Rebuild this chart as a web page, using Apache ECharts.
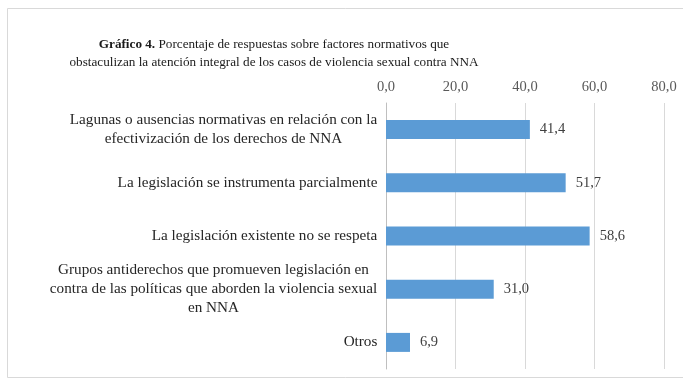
<!DOCTYPE html>
<html><head><meta charset="utf-8">
<script src="https://cdn.jsdelivr.net/npm/echarts@6/dist/echarts.min.js"></script>
<style>html,body{margin:0;padding:0;background:#fff}#c{width:683px;height:380px}</style>
</head><body><div id="c"></div>
<script>
var categories = [
  "Lagunas o ausencias normativas en relación con la\nefectivización de los derechos de NNA",
  "La legislación se instrumenta parcialmente",
  "La legislación existente no se respeta",
  "Grupos antiderechos que promueven legislación en\ncontra de las políticas que aborden la violencia sexual\nen NNA",
  "Otros"
];
var values = [41.4, 51.7, 58.6, 31.0, 6.9];
var tickMin = 0, tickMax = 80, tickStep = 20;

var FONT = '"Liberation Serif","Times New Roman",serif';
var FS = 15.2;
var ctx = document.createElement('canvas').getContext('2d');
ctx.font = FS + 'px ' + FONT;
var rich = {};
categories.forEach(function (c, i) {
  var w = 0;
  c.split('\n').forEach(function (l) { w = Math.max(w, ctx.measureText(l).width); });
  rich['c' + i] = { width: Math.ceil(w) + 1, align: 'center', fontFamily: FONT, fontSize: FS, color: '#262626', lineHeight: 19 };
});

var chart = echarts.init(document.getElementById('c'), null, { renderer: 'canvas' });
chart.setOption({
  animation: false,
  backgroundColor: '#fff',
  title: {
    text: '{b|Gráfico 4.} Porcentaje de respuestas sobre factores normativos que\nobstaculizan la atención integral de los casos de violencia sexual contra NNA',
    left: 269, top: 31, textAlign: 'center',
    textStyle: {
      fontFamily: FONT, fontSize: 13.2, fontWeight: 'normal', color: '#1a1a1a', lineHeight: 18, align: 'center',
      rich: { b: { fontFamily: FONT, fontSize: 13.2, fontWeight: 'bold', color: '#1a1a1a' } }
    }
  },
  graphic: [{
    type: 'rect', shape: { x: 7.5, y: 8.5, width: 690, height: 369 },
    style: { fill: 'none', stroke: '#d9d9d9', lineWidth: 1 }, silent: true
  }],
  grid: { left: 386, right: 19, top: 103, bottom: 11 },
  xAxis: {
    type: 'value', position: 'top', min: tickMin, max: tickMax, interval: tickStep,
    axisLine: { show: false }, axisTick: { show: false },
    splitLine: { lineStyle: { color: '#d9d9d9', width: 1 } },
    axisLabel: {
      margin: 8, fontFamily: FONT, fontSize: 14.5, color: '#595959',
      formatter: function (v) { return v.toFixed(1).replace('.', ','); }
    }
  },
  yAxis: {
    type: 'category', data: categories, inverse: true,
    axisLine: { show: true, lineStyle: { color: '#bfbfbf' } },
    axisTick: { show: false },
    axisLabel: {
      margin: 8, align: 'right',
      formatter: function (v, i) {
        return v.split('\n').map(function (l) { return '{c' + i + '|' + l + '}'; }).join('\n');
      },
      rich: rich
    }
  },
  series: [{
    type: 'bar', data: values, barWidth: 19,
    itemStyle: { color: '#5b9bd5' },
    label: {
      show: true, position: 'right', distance: 10,
      fontFamily: FONT, fontSize: 14.5, color: '#404040',
      formatter: function (p) { return p.value.toFixed(1).replace('.', ','); }
    }
  }]
});
</script></body></html>
